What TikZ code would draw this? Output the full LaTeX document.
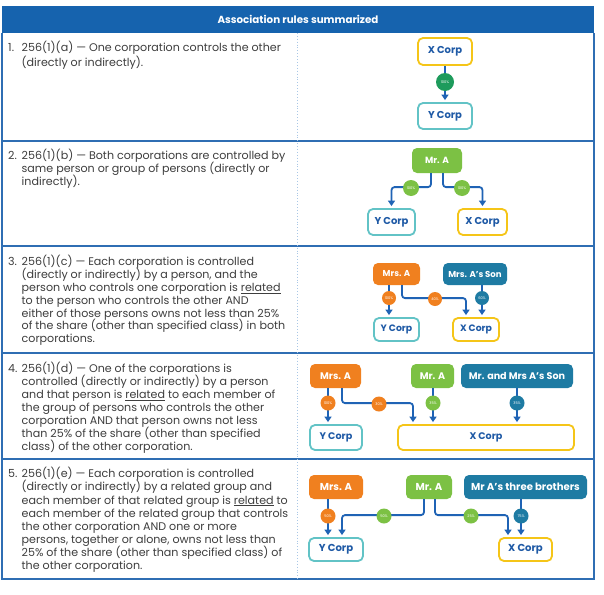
\documentclass[tikz,border=0pt]{standalone}
\usepackage{fontspec}
\setmainfont{Poppins}
\usetikzlibrary{arrows.meta,calc}
\definecolor{hdrblue}{HTML}{1663AE}
\definecolor{rulec}{HTML}{2F6EB3}
\definecolor{sepc}{HTML}{A9C7E6}
\definecolor{txtc}{HTML}{3E3E3E}
\definecolor{arrc}{HTML}{1F63B5}
\definecolor{corpt}{HTML}{1F5AA6}
\definecolor{yel}{HTML}{F5C518}
\definecolor{tealb}{HTML}{62C3C6}
\definecolor{grn}{HTML}{7CC144}
\definecolor{dgrn}{HTML}{1E9B5C}
\definecolor{orng}{HTML}{F0801F}
\definecolor{tealp}{HTML}{1E7BA3}
\begin{document}
\begin{tikzpicture}[x=1pt,y=-1pt,
  rule/.style={draw=rulec,line width=1.1pt},
  txt/.style={anchor=base west,inner sep=0pt,text=txtc,font=\fontsize{11.1}{12}\selectfont},
  corp/.style={draw,line width=1.8pt,rounded corners=5pt,fill=white,text=corpt,inner sep=0pt,font=\bfseries\fontsize{10}{11}\selectfont},
  corpx/.style={corp,draw=yel},
  corpy/.style={corp,draw=tealb},
  pers/.style={rounded corners=5pt,text=white,inner sep=0pt,font=\bfseries\fontsize{9}{10}\selectfont},
  midf/.style={font=\bfseries\fontsize{8.6}{10}\selectfont},
  corp3f/.style={font=\bfseries\fontsize{9.3}{10}\selectfont},
  bigf/.style={font=\bfseries\fontsize{9.6}{11}\selectfont},
  hugef/.style={font=\bfseries\fontsize{10.1}{11}\selectfont},
  pct/.style={circle,inner sep=0pt,minimum size=15pt,text=white,font=\fontsize{3.6}{4}\selectfont},
  conn/.style={draw=arrc,line width=1.8pt,rounded corners=3pt,-{Triangle[width=7pt,length=5.5pt]},shorten >=2pt},
]
\useasboundingbox (0,0) rectangle (604,594);
\fill[white] (0,0) rectangle (604,594);
% header
\node[fill=hdrblue,minimum width=592pt,minimum height=27pt,inner sep=0pt,anchor=north west] (hdr) at (2,6) {};
\node[text=white,font=\bfseries\fontsize{10.3}{11}\selectfont,inner sep=0pt] (title) at (298,19.5) {Association rules summarized};
% table rules
\draw[rule] (2,33) -- (2,579) -- (594,579) -- (594,33);
\foreach \yy in {141,246,353,459} \draw[rule] (2,\yy) -- (594,\yy);
\draw[draw=sepc,line width=0.9pt,dotted] (297,33) -- (297,579);

% ---------- texts ----------
\node[txt] (n1) at (8,51.8) {1.};
\node[txt] (t1a) at (21.5,51.8) {256(1)(a) — One corporation controls the other};
\node[txt] (t1b) at (21.5,66.8) {(directly or indirectly).};

\node[txt] (n2) at (8,159) {2.};
\node[txt] (t2a) at (21.5,159) {256(1)(b) — Both corporations are controlled by};
\node[txt] (t2b) at (21.5,172) {same person or group of persons (directly or};
\node[txt] (t2c) at (21.5,185) {indirectly).};

\node[txt] (n3) at (8,265.8) {3.};
\node[txt] (t3a) at (21.5,265.8) {256(1)(c) — Each corporation is controlled};
\node[txt] (t3b) at (21.5,278.6) {(directly or indirectly) by a person, and the};
\node[txt] (t3c) at (21.5,291.4) {person who controls one corporation is \underline{related}};
\node[txt] (t3d) at (21.5,304.2) {to the person who controls the other AND};
\node[txt] (t3e) at (21.5,317) {either of those persons owns not less than 25\%};
\node[txt] (t3f) at (21.5,329.8) {of the share (other than specified class) in both};
\node[txt] (t3g) at (21.5,342.6) {corporations.};

\node[txt] (n4) at (8,372.5) {4.};
\node[txt] (t4a) at (21.5,372.5) {256(1)(d) — One of the corporations is};
\node[txt] (t4b) at (21.5,385.5) {controlled (directly or indirectly) by a person};
\node[txt] (t4c) at (21.5,398.5) {and that person is \underline{related} to each member of};
\node[txt] (t4d) at (21.5,411.5) {the group of persons who controls the other};
\node[txt] (t4e) at (21.5,424.5) {corporation AND that person owns not less};
\node[txt] (t4f) at (21.5,437.5) {than 25\% of the share (other than specified};
\node[txt] (t4g) at (21.5,450.5) {class) of the other corporation.};

\node[txt] (n5) at (8,477.8) {5.};
\node[txt] (t5a) at (21.5,477.8) {256(1)(e) — Each corporation is controlled};
\node[txt] (t5b) at (21.5,490.9) {(directly or indirectly) by a related group and};
\node[txt] (t5c) at (21.5,504) {each member of that related group is \underline{related} to};
\node[txt] (t5d) at (21.5,517.1) {each member of the related group that controls};
\node[txt] (t5e) at (21.5,530.2) {the other corporation AND one or more};
\node[txt] (t5f) at (21.5,543.3) {persons, together or alone, owns not less than};
\node[txt] (t5g) at (21.5,556.4) {25\% of the share (other than specified class) of};
\node[txt] (t5h) at (21.5,569.5) {the other corporation.};

% ---------- row 1 ----------
\node[corpx,minimum width=54pt,minimum height=27pt] (x1) at (445,51.5) {X Corp};
\node[corpy,minimum width=54pt,minimum height=26pt] (y1) at (445,116) {Y Corp};
\draw[conn] (x1) -- (y1);
\node[pct,fill=dgrn,minimum size=18pt] (p1) at (445,82) {100\%};

% ---------- row 2 ----------
\node[pers,fill=grn,minimum width=50pt,minimum height=25pt] (mrA2) at (437,160.5) {Mr. A};
\node[corpy,minimum width=47pt,minimum height=26pt] (yc2) at (391.5,222) {Y Corp};
\node[corpx,minimum width=49pt,minimum height=26pt] (xc2) at (482.5,222) {X Corp};
\draw[conn] ([xshift=-6pt]mrA2.south) |- ($(yc2.north)+(0,-21)$) -- (yc2.north);
\draw[conn] ([xshift=6pt]mrA2.south) |- ($(xc2.north)+(0,-21)$) -- (xc2.north);
\node[pct,fill=grn,minimum size=16pt] (p2a) at (411,188) {100\%};
\node[pct,fill=grn,minimum size=16pt] (p2b) at (462,188) {100\%};

% ---------- row 3 ----------
\node[pers,midf,fill=orng,minimum width=47pt,minimum height=22pt] (mrsA3) at (396.5,274) {Mrs. A};
\node[pers,midf,fill=tealp,minimum width=64pt,minimum height=22pt] (son3) at (475,274) {Mrs. A’s Son};
\node[corpy,corp3f,minimum width=45pt,minimum height=23pt] (yc3) at (396.5,329.5) {Y Corp};
\node[corpx,corp3f,minimum width=46pt,minimum height=23pt] (xc3) at (476,329.5) {X Corp};
\draw[conn] ([xshift=-7.5pt]mrsA3.south) -- ([xshift=-7.5pt]yc3.north);
\draw[conn] ([xshift=5.5pt]mrsA3.south) |- ($([xshift=-10pt]xc3.north)+(0,-19)$) -- ([xshift=-10pt]xc3.north);
\draw[conn] ([xshift=7pt]son3.south) -- ([xshift=7pt]son3.south |- xc3.north);
\node[pct,fill=orng,minimum size=14pt] (p3a) at (389,298) {100\%};
\node[pct,fill=orng,minimum size=14pt] (p3b) at (435,299) {40\%};
\node[pct,fill=tealp,minimum size=14pt] (p3c) at (482,298) {60\%};

% ---------- row 4 ----------
\node[pers,bigf,fill=orng,minimum width=51pt,minimum height=24pt] (mrsA4) at (335.5,376) {Mrs. A};
\node[pers,bigf,fill=grn,minimum width=43pt,minimum height=24pt] (mrA4) at (432.5,376) {Mr. A};
\node[pers,bigf,fill=tealp,minimum width=112pt,minimum height=24pt] (son4) at (517,376) {Mr. and Mrs A’s Son};
\node[corpy,bigf,minimum width=52pt,minimum height=25pt] (yc4) at (336,437.5) {Y Corp};
\node[corpx,bigf,minimum width=176pt,minimum height=25pt] (xc4) at (486,437.5) {X Corp};
\draw[conn] ([xshift=-7.5pt]mrsA4.south) -- ([xshift=-7.5pt]mrsA4.south |- yc4.north);
\draw[conn] ([xshift=6.5pt]mrsA4.south) |- ($([xshift=-73pt]xc4.north)+(0,-21)$) -- ([xshift=-73pt]xc4.north);
\draw[conn] ([xshift=0.5pt]mrA4.south) -- ([xshift=0.5pt]mrA4.south |- xc4.north);
\draw[conn] (son4.south) -- (son4.south |- xc4.north);
\node[pct,fill=orng] (p4a) at (328,403) {100\%};
\node[pct,fill=orng] (p4b) at (379,404) {30\%};
\node[pct,fill=grn] (p4c) at (433,403) {35\%};
\node[pct,fill=tealp] (p4d) at (517,403) {35\%};

% ---------- row 5 ----------
\node[pers,hugef,fill=orng,minimum width=54pt,minimum height=24pt] (mrsA5) at (336,487) {Mrs. A};
\node[pers,hugef,fill=grn,minimum width=46pt,minimum height=24pt] (mrA5) at (429,487) {Mr. A};
\node[pers,hugef,fill=tealp,minimum width=123pt,minimum height=24pt] (bro5) at (525.5,487) {Mr A’s three brothers};
\node[corpy,hugef,minimum width=54pt,minimum height=23pt] (yc5) at (336,549.5) {Y Corp};
\node[corpx,hugef,minimum width=53pt,minimum height=23pt] (xc5) at (525.5,549.5) {X Corp};
\draw[conn] ([xshift=-8pt]mrsA5.south) -- ([xshift=-8pt]mrsA5.south |- yc5.north);
\draw[conn] ([xshift=-5pt]mrA5.south) |- ($([xshift=6pt]yc5.north)+(0,-22)$) -- ([xshift=6pt]yc5.north);
\draw[conn] ([xshift=6pt]mrA5.south) |- ($([xshift=-17.5pt]xc5.north)+(0,-22)$) -- ([xshift=-17.5pt]xc5.north);
\draw[conn] ([xshift=-4.5pt]bro5.south) -- ([xshift=-4.5pt]bro5.south |- xc5.north);
\node[pct,fill=orng] (p5a) at (328,516) {50\%};
\node[pct,fill=grn] (p5b) at (384,516) {50\%};
\node[pct,fill=grn] (p5c) at (471,516) {25\%};
\node[pct,fill=tealp] (p5d) at (521,516) {75\%};
\end{tikzpicture}
\end{document}
